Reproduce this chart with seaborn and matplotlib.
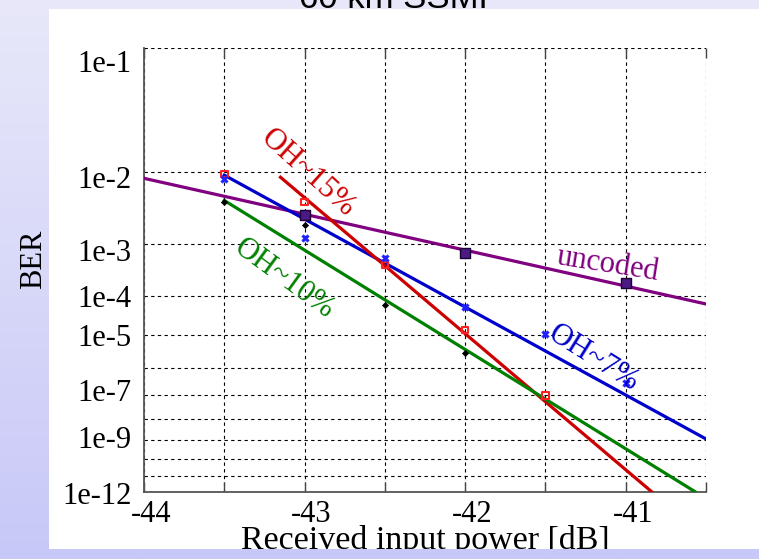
import numpy as np
import pandas as pd
import matplotlib
matplotlib.use("Agg")
import matplotlib.pyplot as plt
import seaborn as sns
from matplotlib.patches import Rectangle
from matplotlib.colors import LinearSegmentedColormap
from matplotlib.transforms import ScaledTranslation, Bbox, TransformedBbox

# ---- measured BER points (received power in dB) ----
uncoded_x = [-43.0, -42.0, -41.0]
uncoded_ber = [2.85e-3, 7.0e-4, 1.9e-4]

oh7_x = [-43.5, -43.0, -42.5, -42.0, -41.5, -41.0]
oh7_ber = [8.2e-3, 1.26e-3, 5.7e-4, 5.4e-5, 1.1e-5, 2.9e-7]

oh15_x = [-43.5, -43.0, -42.5, -42.0, -41.5]
oh15_ber = [9.5e-3, 4.3e-3, 4.3e-4, 1.4e-5, 9.7e-8]

oh10_x = [-43.5, -43.0, -42.5, -42.0]
oh10_ber = [4.3e-3, 2.0e-3, 6.1e-5, 3.1e-6]

# ---- fitted trend lines (end points) ----
uncoded_fit_x = [-44.0, -40.5]
uncoded_fit_ber = [8.45e-3, 6.4e-5]
oh7_fit_x = [-43.5, -40.5]
oh7_fit_ber = [9.2e-3, 1.15e-9]
oh15_fit_x = [-43.15, -40.84]
oh15_fit_ber = [8.7e-3, 1e-12]
oh10_fit_x = [-43.5, -40.57]
oh10_fit_ber = [4.5e-3, 1e-12]

# ---- axis ticks ----
x_ticks = [-44.0, -43.5, -43.0, -42.5, -42.0, -41.5, -41.0, -40.5]
x_tick_labels = ["-44", "", "-43", "", "-42", "", "-41", ""]
y_ticks = [1e-1, 1e-2, 1e-3, 1e-4, 1e-5, 1e-6, 1e-7, 1e-8, 1e-9, 1e-10, 1e-11, 1e-12]
y_tick_labels = ["1e-1", "1e-2", "1e-3", "1e-4", "1e-5", "", "1e-7", "", "1e-9", "", "", "1e-12"]
y_label_nudge_px = [13, 5, 6, 0, 0, 0, -5, 0, -3, 0, 0, 1]

RED, BLUE, GREEN, PURPLE = "#cc0000", "#0000cc", "#008000", "#800080"
SERIF = "Liberation Serif"

W, H = 759, 559
fig = plt.figure(figsize=(W / 100, H / 100), dpi=100)


def fx(px):
    return px / W


def fy(py):
    return 1 - py / H


# lavender gradient backdrop with a white panel on top
bg = fig.add_axes([0, 0, 1, 1], zorder=-10)
grad = np.linspace(0, 1, 256).reshape(-1, 1)
cmap = LinearSegmentedColormap.from_list("lav", ["#e8e8fa", "#c8c8f8"])
bg.imshow(grad, aspect="auto", extent=[0, 1, 0, 1], cmap=cmap, origin="upper")
bg.add_patch(Rectangle((fx(49), fy(549)), 1 - fx(49), fy(9) - fy(549),
                       transform=bg.transAxes, facecolor="white", edgecolor="none"))
bg.set_xlim(0, 1)
bg.set_ylim(0, 1)
bg.axis("off")

title = fig.text(fx(399), fy(8.5), "60 km SSMF", ha="center", va="baseline",
                 fontsize=25, family="Liberation Sans", color="black", zorder=-5)
title.set_clip_box(TransformedBbox(Bbox([[0, fy(9)], [1, 1]]), fig.transFigure))
title.set_clip_on(True)

ax = fig.add_axes([fx(144), fy(491.5), fx(706) - fx(144), (491.5 - 48.3) / H])
ax.set_facecolor("white")


# BER axis: -log10(-log10(BER)), so each decade of exponent is log-spaced
def ber_fwd(b):
    b = np.asarray(b, dtype=float)
    with np.errstate(all="ignore"):
        return -np.log10(-np.log10(b))


def ber_inv(y):
    y = np.asarray(y, dtype=float)
    with np.errstate(all="ignore"):
        return 10.0 ** (-(10.0 ** (-y)))


ax.set_yscale("function", functions=(ber_fwd, ber_inv))

# trend lines
lw = 2.3
sns.lineplot(x=uncoded_fit_x, y=uncoded_fit_ber, ax=ax, color=PURPLE, lw=lw, zorder=3)
sns.lineplot(x=oh7_fit_x, y=oh7_fit_ber, ax=ax, color=BLUE, lw=lw, zorder=3)
sns.lineplot(x=oh15_fit_x, y=oh15_fit_ber, ax=ax, color=RED, lw=lw, zorder=3)
sns.lineplot(x=oh10_fit_x, y=oh10_fit_ber, ax=ax, color=GREEN, lw=lw, zorder=3)

# measured points
sns.scatterplot(x=oh10_x, y=oh10_ber, ax=ax, marker="D", s=10, color="black",
                edgecolor="black", linewidth=0.5, zorder=4)
sns.scatterplot(x=oh15_x, y=oh15_ber, ax=ax, marker="s", s=22, facecolor="none",
                edgecolor="#ff2020", linewidth=1.5, zorder=4)
sns.scatterplot(x=oh7_x, y=oh7_ber, ax=ax, marker="X", s=30, color="#2020ff",
                edgecolor="#2020ff", linewidth=0.3, zorder=4)
sns.scatterplot(x=uncoded_x, y=uncoded_ber, ax=ax, marker="s", s=60, color="#4b1a85",
                edgecolor="#1a0033", linewidth=1.0, zorder=5)

ax.set_xlim(-44, -40.5)
ax.set_ylim(1e-12, 1e-1)
ax.set_xticks(x_ticks)
ax.set_xticklabels(x_tick_labels)
ax.set_yticks(y_ticks)
ax.set_yticklabels(y_tick_labels)
ax.set_xlabel("")
ax.set_ylabel("")

ax.grid(True, color="black", linestyle=(0, (3, 3)), linewidth=0.8)
ax.set_axisbelow(True)
for side in ("top", "right"):
    ax.spines[side].set_visible(False)
for side in ("left", "bottom"):
    ax.spines[side].set_color("#555555")
    ax.spines[side].set_linewidth(1.3)

ax.tick_params(axis="x", direction="in", length=7, width=1, color="#444444",
               top=True, bottom=True, pad=6, labelsize=22)
ax.tick_params(axis="y", length=0, pad=9, labelsize=22)
for lab in ax.get_xticklabels() + ax.get_yticklabels():
    lab.set_family(SERIF)
for lab in ax.get_xticklabels():
    lab.set_transform(lab.get_transform() + ScaledTranslation(7 / 100, 0, fig.dpi_scale_trans))
for lab, dy in zip(ax.get_yticklabels(), y_label_nudge_px):
    lab.set_transform(lab.get_transform() + ScaledTranslation(0, -dy / 100, fig.dpi_scale_trans))

# curve labels
ax.text(-42.98, 9.7e-3, "OH~15%", color=RED, fontsize=22, family=SERIF,
        rotation=-42, rotation_mode="anchor", ha="center", va="center", zorder=6)
ax.text(-43.13, 2.26e-4, "OH~10%", color=GREEN, fontsize=22, family=SERIF,
        rotation=-36, rotation_mode="anchor", ha="center", va="center", zorder=6)
ax.text(-41.11, 4.27e-4, "uncoded", color=PURPLE, fontsize=22, family=SERIF,
        rotation=-9, rotation_mode="anchor", ha="center", va="center", zorder=6)
ax.text(-41.20, 2.06e-6, "OH~7%", color=BLUE, fontsize=22, family=SERIF,
        rotation=-32, rotation_mode="anchor", ha="center", va="center", zorder=6)

# axis titles
fig.text(fx(34), fy(259), "BER", rotation=90, ha="center", va="center",
         fontsize=22, family=SERIF)
xl = fig.text(fx(425), fy(548.5), "Received input power [dB]", ha="center",
              va="baseline", fontsize=24.5, family=SERIF)
xl.set_clip_box(TransformedBbox(Bbox([[0, fy(549)], [1, 1]]), fig.transFigure))
xl.set_clip_on(True)

fig.savefig("out.png", dpi=100)
